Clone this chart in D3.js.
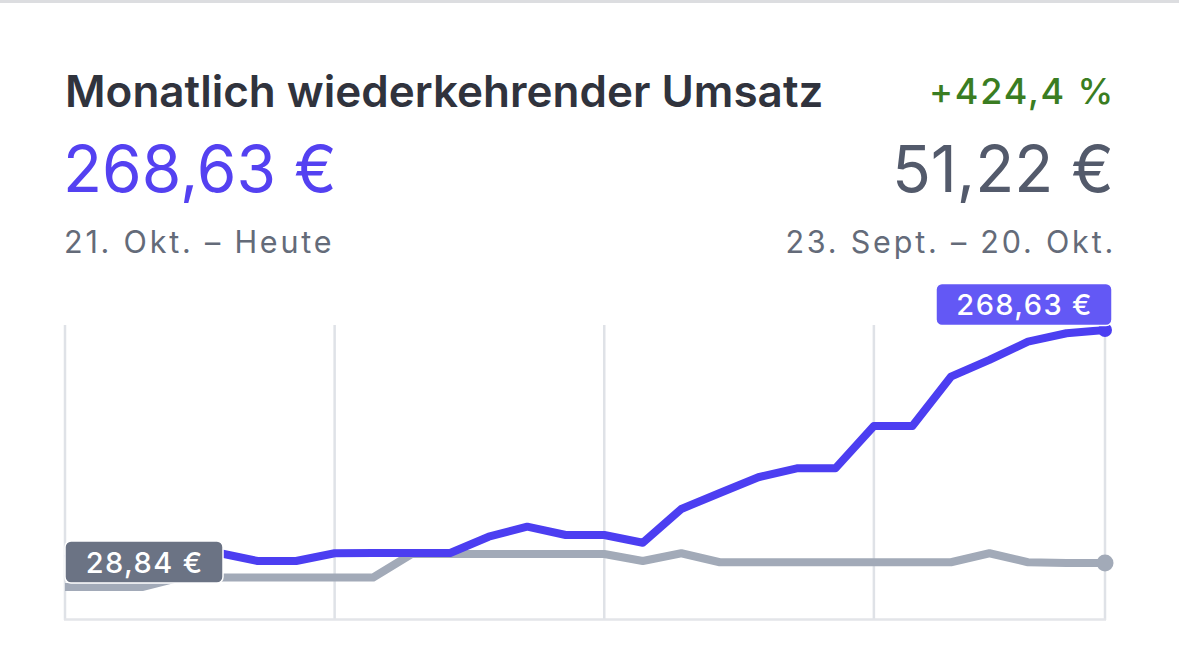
<!DOCTYPE html>
<html>
<head>
<meta charset="utf-8">
<style>
  body { margin: 0; background: #fff; }
  svg { display: block; font-family: Inter, "Noto Sans", sans-serif; }
</style>
</head>
<body>
<svg id="chart" width="1179" height="652"></svg>
<script src="https://d3js.org/d3.v7.min.js"></script>
<script>
// 28 days each; current period 21 Okt - heute, previous 23 Sept - 20 Okt
var days = ["21.10.","22.10.","23.10.","24.10.","25.10.","26.10.","27.10.",
            "28.10.","29.10.","30.10.","31.10.","01.11.","02.11.","03.11.",
            "04.11.","05.11.","06.11.","07.11.","08.11.","09.11.","10.11.",
            "11.11.","12.11.","13.11.","14.11.","15.11.","16.11.","17.11."];

var current = [55, 57, 58, 60, 60.6, 53.2, 53.2, 60.4, 60.6, 60.6, 60.6, 75.8, 85.2, 77.4,
               77.4, 70.2, 101.7, 116.6, 131.3, 139.6, 139.6, 179.1, 179.1, 225.1, 240.7, 257.7, 265.6, 268.63];

var previous = [28.84, 28.84, 28.84, 37.8, 37.8, 37.8, 37.8, 37.8, 37.8, 59.7, 59.7, 59.7, 59.7, 59.7,
                59.7, 53.2, 60.4, 52.0, 52.0, 52.0, 52.0, 52.0, 52.0, 52.0, 60.4, 52.0, 51.4, 51.22];

var gridDays = ["21.10.", "28.10.", "04.11.", "11.11.", "17.11."];

var svg = d3.select("#chart");

// top divider
svg.append("rect").attr("x", 0).attr("y", 0).attr("width", 1179).attr("height", 3).attr("fill", "#dcdde0");

// header texts (letter-spacing to get closer to the iOS system font widths)
svg.append("text").attr("x", 65).attr("y", 107)
  .attr("font-size", 44).attr("font-weight", 600).attr("fill", "#30333d")
  .text("Monatlich wiederkehrender Umsatz");
svg.append("text").attr("x", 1115).attr("y", 104).attr("text-anchor", "end")
  .attr("font-size", 36).attr("font-weight", 500).attr("fill", "#3a7d22")
  .attr("letter-spacing", 1.8)
  .text("+424,4 %");
svg.append("text").attr("x", 63).attr("y", 192)
  .attr("font-size", 64).attr("font-weight", 400).attr("fill", "#5441f1")
  .text("268,63 €");
svg.append("text").attr("x", 1114).attr("y", 192).attr("text-anchor", "end")
  .attr("font-size", 64).attr("font-weight", 400).attr("fill", "#535a6b")
  .text("51,22 €");
svg.append("text").attr("x", 64).attr("y", 253)
  .attr("font-size", 30.5).attr("fill", "#646b79").attr("letter-spacing", 2.8)
  .text("21. Okt. – Heute");
svg.append("text").attr("x", 1116).attr("y", 253).attr("text-anchor", "end")
  .attr("font-size", 30.5).attr("fill", "#646b79").attr("letter-spacing", 2.8)
  .text("23. Sept. – 20. Okt.");

// scales
var x = d3.scalePoint().domain(days).range([65, 1105]);
var y = d3.scaleLinear().domain([0, 268.63]).range([618, 330]);

// grid
svg.append("g").selectAll("line")
  .data(gridDays)
  .enter().append("line")
    .attr("x1", function(d) { return x(d); })
    .attr("x2", function(d) { return x(d); })
    .attr("y1", 325).attr("y2", 620)
    .attr("stroke", "#dfe2e7").attr("stroke-width", 2.5);

svg.append("line").attr("x1", 64).attr("x2", 1106).attr("y1", 619.5).attr("y2", 619.5)
  .attr("stroke", "#e3e5e9").attr("stroke-width", 2.5);

var line = d3.line()
  .x(function(d, i) { return x(days[i]); })
  .y(function(d) { return y(d); });

svg.append("path").datum(previous)
  .attr("d", line).attr("fill", "none")
  .attr("stroke", "#a2aab8").attr("stroke-width", 8)
  .attr("stroke-linejoin", "round");

svg.append("path").datum(current)
  .attr("d", line).attr("fill", "none")
  .attr("stroke", "#4c3ef1").attr("stroke-width", 8)
  .attr("stroke-linejoin", "round");

var last = days.length - 1;
svg.append("circle").attr("cx", x(days[last])).attr("cy", y(previous[last])).attr("r", 8.5).attr("fill", "#a2aab8");
svg.append("circle").attr("cx", x(days[last])).attr("cy", y(current[last])).attr("r", 7).attr("fill", "#4c3ef1");

// value labels
function badge(cx, cy, w, h, fill, label) {
  var g = svg.append("g");
  g.append("rect").attr("x", cx - w / 2).attr("y", cy - h / 2).attr("width", w).attr("height", h)
    .attr("rx", 6).attr("fill", fill).attr("stroke", "#fff").attr("stroke-width", 1.5);
  g.append("text").attr("x", cx + 0.7).attr("y", cy + 10.5).attr("text-anchor", "middle")
    .attr("font-size", 29).attr("font-weight", 500).attr("fill", "#fff")
    .attr("letter-spacing", 1.4)
    .text(label);
}
badge(x(days[last]) - 81, y(current[last]) - 25.5, 176, 42, "#6358f5", "268,63 €");
badge(x(days[0]) + 79, y(previous[0]) - 25, 158, 42, "#6b7384", "28,84 €");
</script>
</body>
</html>
